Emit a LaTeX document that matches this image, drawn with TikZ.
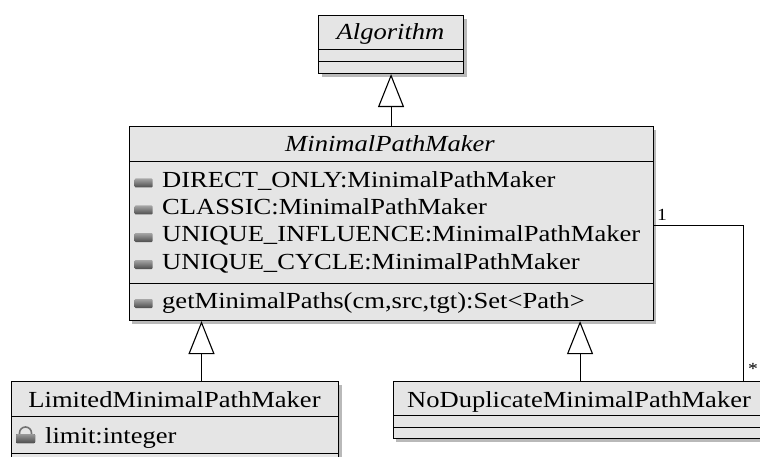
\documentclass[tikz,border=0pt]{standalone}
\usepackage{fontspec}
\setmainfont{Liberation Serif}[FakeStretch=1.155]
\usetikzlibrary{arrows.meta,shadows}

\begin{document}
\begin{tikzpicture}[x=1pt, y=-1pt,
    >={Triangle[width=26pt, length=33pt, fill=white]},
    box/.style={draw, line width=1.1pt, fill=gray!20, anchor=north west,
      inner sep=0pt,
      drop shadow={shadow xshift=3pt, shadow yshift=-3pt, fill=gray!55, opacity=1}},
    txt/.style={anchor=base west, inner sep=0pt,
      font=\fontsize{23}{27.3}\selectfont},
    title/.style={anchor=base, inner sep=0pt,
      font=\fontsize{23}{27.3}\selectfont},
    field/.style={rounded corners=1pt, top color=black!35, bottom color=black!70,
      minimum width=18pt, minimum height=9pt, inner sep=0pt},
    inherit/.style={->, line width=1.1pt},
    assoc/.style={line width=1pt},
    mult/.style={inner sep=0pt, font=\fontsize{17}{17}\selectfont},
    lock/.pic={
      \draw[black!55, line width=1.6pt] (-6,1) -- (-6,-1) arc(180:0:6pt) -- (6,1);
      \fill[rounded corners=1pt, top color=black!40, bottom color=black!70]
        (-9.5,0) rectangle (9.5,9);
    }]

  \useasboundingbox (0,0) rectangle (760,457);

  % Algorithm
  \node[box, minimum width=145pt, minimum height=34pt] (algtitle) at (318,15) {};
  \node[box, minimum width=145pt, minimum height=12pt] (algattr) at (318,49) {};
  \node[box, minimum width=145pt, minimum height=12pt] (algops) at (318,61) {};
  \node[title] (algname) at (390.5,40) {\itshape Algorithm};

  % MinimalPathMaker
  \node[box, minimum width=524pt, minimum height=35pt] (mpmtitle) at (128.5,126) {};
  \node[box, minimum width=524pt, minimum height=122pt] (mpmattr) at (128.5,161) {};
  \node[box, minimum width=524pt, minimum height=37pt] (mpmops) at (128.5,283) {};
  \node[title] (mpmname) at (390,152) {\itshape MinimalPathMaker};

  \node[field] (f1) at (143.5,183) {};
  \node[txt] (a1) at (162,187.3) {DIRECT\_ONLY:MinimalPathMaker};
  \node[field] (f2) at (143.5,210) {};
  \node[txt] (a2) at (162,214.5) {CLASSIC:MinimalPathMaker};
  \node[field] (f3) at (143.5,237.5) {};
  \node[txt] (a3) at (162,241.8) {UNIQUE\_INFLUENCE:MinimalPathMaker};
  \node[field] (f4) at (143.5,264.5) {};
  \node[txt] (a4) at (162,269) {UNIQUE\_CYCLE:MinimalPathMaker};
  \node[field] (f5) at (143.5,303.5) {};
  \node[txt] (o1) at (162,308) {getMinimalPaths(cm,src,tgt):Set<Path>};

  % LimitedMinimalPathMaker
  \node[box, minimum width=327pt, minimum height=35pt] (limtitle) at (11,381) {};
  \node[box, minimum width=327pt, minimum height=37pt] (limattr) at (11,416) {};
  \node[box, minimum width=327pt, minimum height=20pt] (limops) at (11,453) {};
  \node[title] (limname) at (174.5,407) {LimitedMinimalPathMaker};
  \pic at (25.5,434) {lock};
  \node[txt] (l1) at (45,443) {limit:integer};

  % NoDuplicateMinimalPathMaker
  \node[box, minimum width=374pt, minimum height=34pt] (ndtitle) at (392.5,381) {};
  \node[box, minimum width=374pt, minimum height=12pt] (ndattr) at (392.5,415) {};
  \node[box, minimum width=374pt, minimum height=11pt] (ndops) at (392.5,427) {};
  \node[title] (ndname) at (579,407) {NoDuplicateMinimalPathMaker};

  \draw[inherit] (mpmtitle.north) -- (mpmtitle.north |- algops.south);
  \draw[inherit] (limtitle.north -| 201.5,0) -- (mpmops.south -| 201.5,0);
  \draw[inherit] (ndtitle.north) -- (ndtitle.north |- mpmops.south);

  \draw[assoc] (mpmattr.east |- 0,225.5) -| (ndtitle.north -| 743.5,0);
  \node[mult, anchor=base west] (one) at (657,220) {1};
  \node[mult, anchor=base west] (many) at (748,374) {*};
\end{tikzpicture}
\end{document}
